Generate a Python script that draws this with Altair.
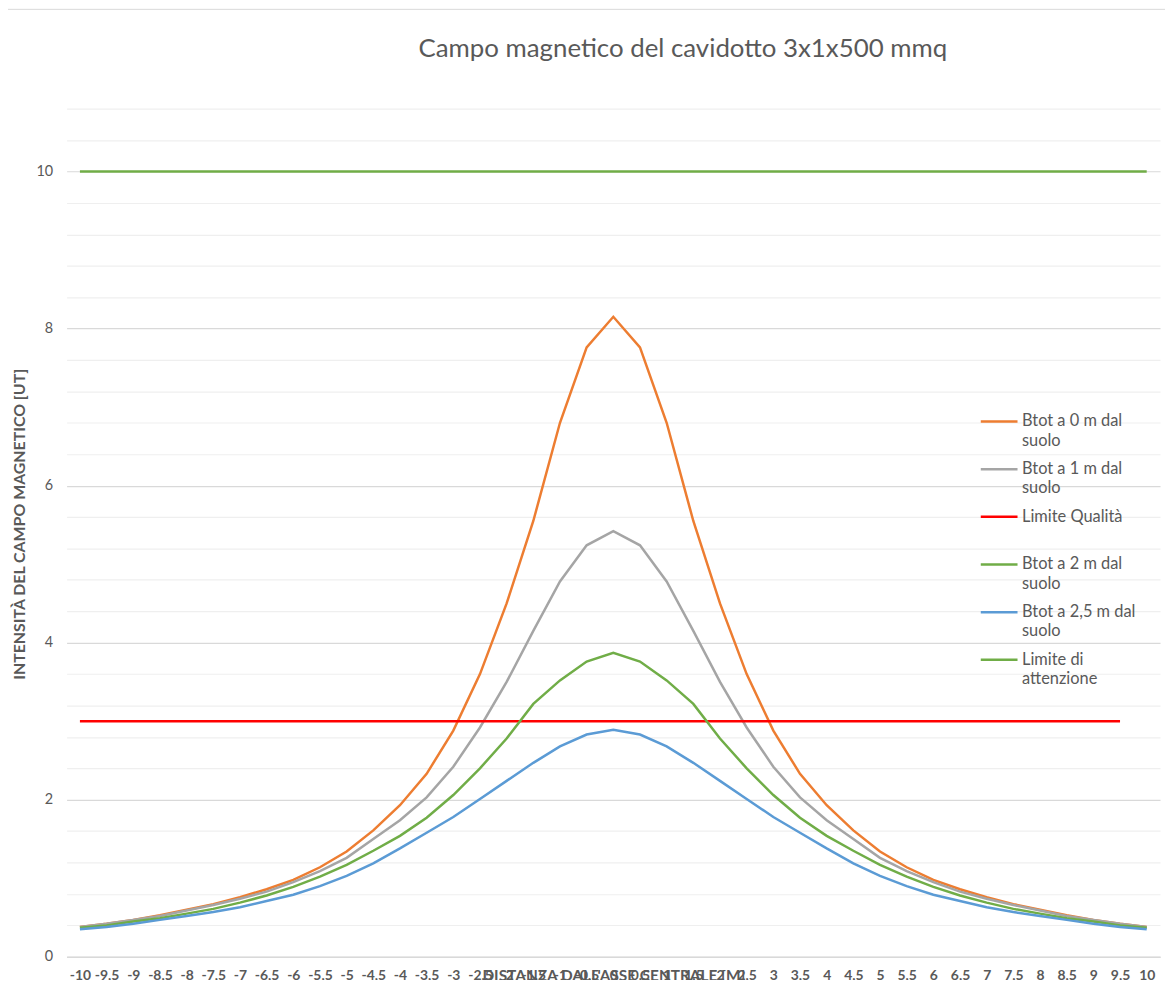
import altair as alt
import pandas as pd

# Category labels (distance from the central axis, m)
x_labels = ["-10", "-9,5", "-9", "-8,5", "-8", "-7,5", "-7", "-6,5", "-6", "-5,5",
            "-5", "-4,5", "-4", "-3,5", "-3", "-2,5", "-2", "-1,5", "-1", "-0,5",
            "0", "0,5", "1", "1,5", "2", "2,5", "3", "3,5", "4", "4,5",
            "5", "5,5", "6", "6,5", "7", "7,5", "8", "8,5", "9", "9,5", "10"]

btot_0m = [0.38, 0.42, 0.47, 0.53, 0.60, 0.67, 0.76, 0.86, 0.98, 1.14,
           1.34, 1.61, 1.93, 2.33, 2.88, 3.60, 4.50, 5.55, 6.80, 7.76,
           8.15, 7.76, 6.80, 5.55, 4.50, 3.60, 2.88, 2.33, 1.93, 1.61,
           1.34, 1.14, 0.98, 0.86, 0.76, 0.67, 0.60, 0.53, 0.47, 0.42, 0.38]
btot_1m = [0.38, 0.42, 0.47, 0.52, 0.59, 0.66, 0.74, 0.83, 0.95, 1.09,
           1.26, 1.50, 1.74, 2.03, 2.42, 2.92, 3.50, 4.15, 4.78, 5.24,
           5.42, 5.24, 4.78, 4.15, 3.50, 2.92, 2.42, 2.03, 1.74, 1.50,
           1.26, 1.09, 0.95, 0.83, 0.74, 0.66, 0.59, 0.52, 0.47, 0.42, 0.38]
btot_2m = [0.37, 0.40, 0.45, 0.49, 0.55, 0.61, 0.69, 0.78, 0.89, 1.02,
           1.17, 1.35, 1.54, 1.77, 2.06, 2.40, 2.78, 3.22, 3.52, 3.76,
           3.87, 3.76, 3.52, 3.22, 2.78, 2.40, 2.06, 1.77, 1.54, 1.35,
           1.17, 1.02, 0.89, 0.78, 0.69, 0.61, 0.55, 0.49, 0.45, 0.40, 0.37]
btot_25m = [0.35, 0.38, 0.42, 0.47, 0.52, 0.57, 0.63, 0.71, 0.79, 0.90,
            1.03, 1.19, 1.38, 1.58, 1.78, 2.01, 2.24, 2.47, 2.68, 2.83,
            2.89, 2.83, 2.68, 2.47, 2.24, 2.01, 1.78, 1.58, 1.38, 1.19,
            1.03, 0.90, 0.79, 0.71, 0.63, 0.57, 0.52, 0.47, 0.42, 0.38, 0.35]
limite_qualita = [3] * 40          # from -10 to 9,5
limite_attenzione = [10] * 41      # from -10 to 10

series_names = ["Btot a 0 m dal suolo", "Btot a 1 m dal suolo", "Limite Qualità",
                "Btot a 2 m dal suolo", "Btot a 2,5 m dal suolo", "Limite di attenzione"]
series_values = [btot_0m, btot_1m, limite_qualita, btot_2m, btot_25m, limite_attenzione]
series_colors = ["#ED7D31", "#A5A5A5", "#FF0000", "#70AD47", "#5B9BD5", "#70AD47"]
series_widths = [2.5, 2.5, 1.5, 2.5, 2.5, 5]

y_grid = [round(i * 0.4, 1) for i in range(28)]

chart_title = "Campo magnetico del cavidotto 3x1x500 mmq"

rows = []
for name, vals in zip(series_names, series_values):
    for i, v in enumerate(vals):
        rows.append({"x": x_labels[i], "series": name, "value": v, "idx": i})
df = pd.DataFrame(rows)

W, H = 1101, 854
FONT = "Lato"
GREY = "#595959"

label_expr = ("datum.label == 'Limite Qualità' ? ['Limite Qualità', ' '] : "
              "datum.label == 'Limite di attenzione' ? ['Limite di', 'attenzione'] : "
              "[replace(datum.label, ' suolo', ''), 'suolo']")

legend = alt.Legend(
    title=None, orient="none", legendX=919, legendY=295,
    symbolType="stroke", symbolSize=1369, labelFont=FONT, labelFontSize=16.5,
    labelColor=GREY, labelOffset=3, rowPadding=0, labelLimit=300,
    labelExpr=label_expr, labelBaseline="middle",
)

lines = alt.Chart(df).mark_line(interpolate="linear").encode(
    x=alt.X("x:O", sort=x_labels,
            scale=alt.Scale(type="point", padding=0.5),
            axis=alt.Axis(title="DISTANZA DALL'ASSE CENTRALE [M]", labelAngle=0,
                          labelOverlap=False, labelBound=False, ticks=False,
                          grid=False, domain=True, domainColor="#D9D9D9", domainWidth=1.5,
                          labelFont=FONT, labelFontSize=14, labelFontWeight="bold",
                          labelColor=GREY, labelPadding=12,
                          titleFont=FONT, titleFontSize=15.5, titleFontWeight="bold",
                          titleColor=GREY, titleBaseline="top", titleY=12)),
    y=alt.Y("value:Q",
            scale=alt.Scale(domain=[0, 10.8], nice=False, zero=True),
            axis=alt.Axis(title="INTENSITÀ DEL CAMPO MAGNETICO [UT]", values=y_grid,
                          labelExpr="datum.value % 2 === 0 ? toString(datum.value) : ''",
                          ticks=False, domain=False,
                          gridColor={"condition": {"test": "datum.value % 2 === 0",
                                                   "value": "#D9D9D9"},
                                     "value": "#EFEFEF"},
                          gridWidth=1.2,
                          labelFont=FONT, labelFontSize=14.5, labelColor=GREY,
                          labelPadding=14,
                          titleFont=FONT, titleFontSize=16, titleFontWeight="bold",
                          titleColor=GREY, titlePadding=9, titleY=418)),
    color=alt.Color("series:N", sort=series_names,
                    scale=alt.Scale(domain=series_names, range=series_colors),
                    legend=legend),
    strokeWidth=alt.StrokeWidth("series:N", sort=series_names,
                                scale=alt.Scale(domain=series_names, range=series_widths),
                                legend=legend),
    order="idx:Q",
)

border = alt.Chart(pd.DataFrame({"a": [0]})).mark_rect(
    filled=False, stroke="#D9D9D9", strokeWidth=1
).encode(x=alt.value(-61), x2=alt.value(W + 20), y=alt.value(-100), y2=alt.value(H + 60))

title = alt.Chart(pd.DataFrame({"t": [chart_title]})).mark_text(
    font=FONT, fontSize=26, color=GREY, align="center", baseline="middle"
).encode(text="t:N", x=alt.value(W / 2 + 70), y=alt.value(-60))

chart = alt.layer(border, lines, title).properties(
    width=W, height=H,
    autosize=alt.AutoSizeParams(type="none"),
    padding={"left": 59, "top": 98, "right": 5, "bottom": 20},
    background="white",
).configure(style={"guide-label": {"lineHeight": 19.4}}).configure_view(stroke=None)

chart.save("out.html", embed_options={"renderer": "svg", "actions": False})
